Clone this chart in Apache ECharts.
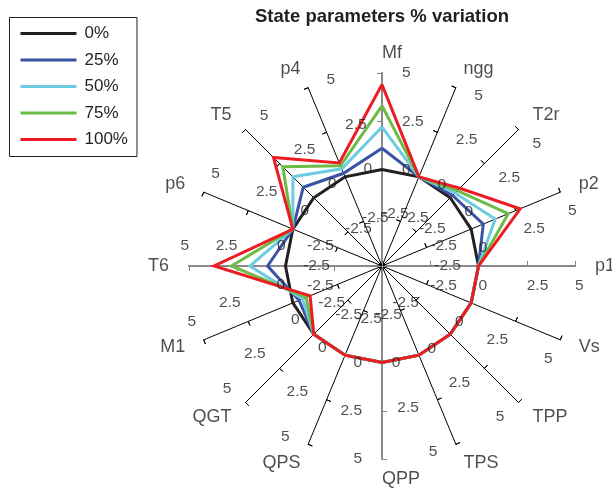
<!DOCTYPE html>
<html>
<head>
<meta charset="utf-8">
<script src="https://cdn.jsdelivr.net/npm/echarts@6/dist/echarts.min.js"></script>
<style>
  html, body { margin: 0; padding: 0; background: #ffffff; }
  #chart { width: 612px; height: 490px; }
</style>
</head>
<body>
<div id="chart"></div>
<script>
// Spokes of the radar, listed clockwise starting at the top
const categories = ['Mf', 'ngg', 'T2r', 'p2', 'p1', 'Vs', 'TPP', 'TPS', 'QPP', 'QPS', 'QGT', 'M1', 'T6', 'p6', 'T5', 'p4'];
const seriesNames = ['0%', '25%', '50%', '75%', '100%'];

// Percentage variation of each state parameter (same order as categories)
const values0   = [0,   0, 0,    0,    0, 0, 0, 0, 0, 0, 0,  0,    0,    0, 0,    0];
const values25  = [1.1, 0, 0.17, 0.68, 0, 0, 0, 0, 0, 0, 0, -0.35, 0.93, 0, 0.77, 0.2];
const values50  = [2.2, 0, 0.35, 1.35, 0, 0, 0, 0, 0, 0, 0, -0.55, 1.85, 0, 1.53, 0.45];
const values75  = [3.3, 0, 0.52, 2.08, 0, 0, 0, 0, 0, 0, 0, -0.75, 2.8,  0, 2.27, 0.62];
const values100 = [4.4, 0, 0.7,  2.75, 0, 0, 0, 0, 0, 0, 0, -0.97, 3.7,  0, 2.95, 0.78];

// Value scale shared by every spoke
const tickLabels = [-2.5, 0, 2.5, 5];
const axisMin = -5;
const axisMax = 5;
const axisStep = 2.5;
const mainAxes = ['Mf', 'p1', 'QPP', 'T6'];

const seriesValues = [values0, values25, values50, values75, values100];
const colors = ['#231f20', '#3a53a4', '#6ccbe0', '#6cbb46', '#ed1c24'];
const TEXT = '#231f20';
const FONT = '"Liberation Sans", Arial, Helvetica, sans-serif';
const CENTER = [382, 266];
const RADIUS = 193;

// The radar component lays its indicators out counter-clockwise,
// so reverse everything after the first spoke.
function ccw(arr) {
  return [arr[0]].concat(arr.slice(1).reverse());
}

function radarLayer(names, color, width, inside, showLine) {
  return {
    center: CENTER,
    radius: RADIUS,
    startAngle: 90,
    splitNumber: (axisMax - axisMin) / axisStep,
    shape: 'polygon',
    indicator: names.map(n => ({ name: n, min: axisMin, max: axisMax })),
    axisName: { show: false },
    splitLine: { show: false },
    splitArea: { show: false },
    axisLabel: { show: false },
    axisLine: { show: showLine, lineStyle: { color: color, width: width } },
    axisTick: { show: true, inside: inside, length: 4.5, lineStyle: { color: color, width: 1 } }
  };
}

const mainCcw = ['Mf', 'T6', 'QPP', 'p1'];

const radars = [
  radarLayer(ccw(categories), '#000000', 1, false, true),
  radarLayer(ccw(categories), '#000000', 1, true, false),
  radarLayer(mainCcw, '#8a8a8a', 2, false, true),
  radarLayer(mainCcw, '#8a8a8a', 1.5, true, false)
];

// Tick value labels: set off to the clockwise side of each spoke
const tickLabelData = [];
categories.forEach((name, i) => {
  const th = i * 22.5 * Math.PI / 180;
  const deg = i * 22.5;
  const align = (deg < 100 || deg > 280) ? 'left' : 'right';
  tickLabels.forEach(t => {
    tickLabelData.push({
      value: [t, i],
      label: {
        offset: [20 * Math.cos(th), 20 * Math.sin(th)],
        align: align
      }
    });
  });
});

// Spoke names beyond the end of each spoke
const nameData = categories.map((name, i) => {
  const th = i * 22.5 * Math.PI / 180;
  const deg = i * 22.5;
  return {
    name: name,
    value: [axisMax, i],
    label: {
      offset: [20 * Math.sin(th), -20 * Math.cos(th)],
      align: deg <= 180 ? 'left' : 'right'
    }
  };
});

const radarSeries = seriesNames.map((nm, k) => ({
  type: 'radar',
  name: nm,
  radarIndex: 0,
  symbol: 'none',
  z: 3,
  lineStyle: { color: colors[k], width: 3, join: 'miter' },
  itemStyle: { color: colors[k] },
  areaStyle: null,
  data: [{ name: nm, value: ccw(seriesValues[k]) }]
}));

const option = {
  animation: false,
  backgroundColor: '#ffffff',
  textStyle: { fontFamily: FONT, color: TEXT },
  title: {
    text: 'State parameters % variation',
    left: 382,
    top: 7,
    padding: 0,
    textAlign: 'center',
    textStyle: { fontFamily: FONT, fontSize: 18.5, fontWeight: 'bold', color: TEXT }
  },
  legend: {
    data: seriesNames,
    orient: 'vertical',
    left: 9.5,
    top: 17.5,
    padding: [7.5, 9, 8.5, 11],
    itemGap: 9.5,
    itemWidth: 56,
    itemHeight: 3,
    icon: 'rect',
    borderColor: '#231f20',
    borderWidth: 1,
    textStyle: { fontFamily: FONT, fontSize: 17, color: TEXT, padding: [0, 0, 0, 3] }
  },
  radar: radars,
  polar: { center: CENTER, radius: RADIUS },
  angleAxis: {
    type: 'category',
    data: categories,
    startAngle: 90,
    clockwise: true,
    boundaryGap: false,
    axisLine: { show: false },
    axisTick: { show: false },
    axisLabel: { show: false },
    splitLine: { show: false },
    splitArea: { show: false }
  },
  radiusAxis: {
    type: 'value',
    min: axisMin,
    max: axisMax,
    interval: axisStep,
    axisLine: { show: false },
    axisTick: { show: false },
    axisLabel: { show: false },
    splitLine: { show: false },
    splitArea: { show: false }
  },
  series: radarSeries.concat([
    {
      type: 'scatter',
      name: 'tick labels',
      coordinateSystem: 'polar',
      symbolSize: 0,
      silent: true,
      z: 10,
      label: {
        show: true,
        position: 'inside',
        verticalAlign: 'middle',
        fontFamily: FONT,
        fontSize: 15.5,
        color: TEXT,
        formatter: p => String(p.value[0])
      },
      data: tickLabelData
    },
    {
      type: 'scatter',
      name: 'spoke names',
      coordinateSystem: 'polar',
      symbolSize: 0,
      silent: true,
      z: 10,
      label: {
        show: true,
        position: 'inside',
        verticalAlign: 'middle',
        fontFamily: FONT,
        fontSize: 18,
        color: TEXT,
        formatter: '{b}'
      },
      data: nameData
    }
  ])
};

const chart = echarts.init(document.getElementById('chart'), null, { renderer: 'canvas' });
chart.setOption(option);
</script>
</body>
</html>
